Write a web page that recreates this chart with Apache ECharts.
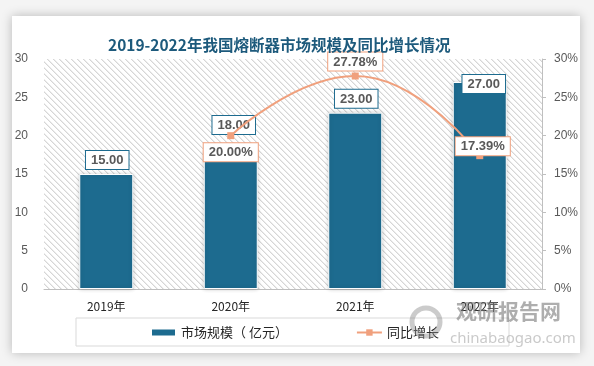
<!DOCTYPE html>
<html>
<head>
<meta charset="utf-8">
<script src="https://cdn.jsdelivr.net/npm/echarts@6/dist/echarts.min.js"></script>
<style>
html,body{margin:0;padding:0;background:#f4f4f4;}
#c{width:594px;height:366px;}
</style>
</head>
<body>
<div id="c"></div>
<script>
const titleText = '2019-2022年我国熔断器市场规模及同比增长情况';
const categories = ['2019年', '2020年', '2021年', '2022年'];
const marketSize = [15.00, 18.00, 23.00, 27.00];
const growthRate = [null, 20.00, 27.78, 17.39];
const leftTicks = [0, 30, 5];
const rightTicks = [0, 30, 5];
const seriesNames = ['市场规模（ 亿元）', '同比增长'];

// label placement tweaks (style, not data)
const barLabelOffsets = [[1, 0], [3, -12], [1, 0], [4, 16]];
const lineLabelPos = ['top', 'bottom', 'top', 'top'];
const lineLabelOffsets = [[0, 0], [0, 2], [0, 0], [3, 5]];

const barColor = '#1d6b8f';
const lineColor = '#f0a07d';

// hatch pattern
const P = 6;
const pc = document.createElement('canvas');
pc.width = P; pc.height = P;
const px = pc.getContext('2d');
px.fillStyle = '#ffffff';
px.fillRect(0, 0, P, P);
px.fillStyle = '#d6d6d6';
for (let i = 0; i < P; i++) px.fillRect(i, i, 1, 1);
px.fillStyle = '#ececec';
for (let i = 0; i < P; i++) px.fillRect((i + 1) % P, i, 1, 1);

const chart = echarts.init(document.getElementById('c'), null, {renderer: 'canvas'});
const numFont = '"Liberation Sans", Arial, sans-serif';
const cjkFont = '"Noto Sans CJK SC", sans-serif';

chart.setOption({
  backgroundColor: '#f4f4f4',
  animation: false,
  graphic: [
    {type: 'rect', z: -10, shape: {x: 12, y: 16, width: 568, height: 337},
     style: {fill: '#ffffff', shadowBlur: 10, shadowColor: 'rgba(0,0,0,0.25)'}},
    {type: 'rect', z: 5, shape: {x: 76, y: 318, width: 433, height: 28},
     style: {fill: 'none', stroke: '#d9d9d9', lineWidth: 1}},
    {type: 'circle', z: 100, shape: {cx: 426, cy: 322, r: 14},
     style: {fill: 'none', stroke: 'rgba(140,140,140,0.45)', lineWidth: 5}},
    {type: 'text', z: 100, left: 456, top: 301,
     style: {text: '观研报告网', fill: 'rgba(120,120,120,0.6)', font: 'bold 21px "Noto Sans CJK SC"'}},
    {type: 'text', z: 100, left: 450, top: 331,
     style: {text: 'chinabaogao.com', fill: 'rgba(150,150,150,0.5)', font: '15px "Noto Sans", sans-serif'}}
  ],
  title: {
    text: titleText, left: 103, top: 32,
    textStyle: {color: '#1d5a7c', fontSize: 15.5, fontWeight: 'bold', fontFamily: cjkFont}
  },
  legend: {
    top: 321, left: 145, itemGap: 68,
    itemWidth: 25, itemHeight: 8,
    textStyle: {color: '#262626', fontSize: 13, fontFamily: cjkFont},
    data: [
      {name: seriesNames[0], icon: 'rect'},
      {name: seriesNames[1]}
    ]
  },
  grid: {
    left: 44, right: 52, top: 59, height: 230,
    show: true, borderWidth: 0,
    backgroundColor: {image: pc, repeat: 'repeat'}
  },
  xAxis: {
    type: 'category', data: categories,
    axisLine: {lineStyle: {color: '#bfbfbf', width: 1}},
    axisTick: {show: false},
    axisLabel: {color: '#262626', fontSize: 12, margin: 11, fontFamily: cjkFont}
  },
  yAxis: [
    {type: 'value', min: leftTicks[0], max: leftTicks[1], interval: leftTicks[2],
     axisLine: {show: false}, axisTick: {show: false}, splitLine: {show: false},
     axisLabel: {color: '#595959', fontSize: 12, margin: 16, fontFamily: numFont}},
    {type: 'value', min: rightTicks[0], max: rightTicks[1], interval: rightTicks[2],
     position: 'right',
     axisLine: {show: true, lineStyle: {color: '#bfbfbf'}},
     axisTick: {show: true, length: 4, lineStyle: {color: '#bfbfbf'}},
     splitLine: {show: false},
     axisLabel: {color: '#595959', fontSize: 12, margin: 12, formatter: '{value}%', fontFamily: numFont}}
  ],
  series: [
    {
      name: seriesNames[0], type: 'bar', barWidth: 54,
      itemStyle: {color: barColor, borderColor: '#ffffff', borderWidth: 1,
                  shadowBlur: 4, shadowColor: 'rgba(0,0,0,0.2)'},
      label: {
        show: true, position: 'top', distance: 5,
        formatter: p => p.value.toFixed(2),
        color: '#595959', fontSize: 13, fontWeight: 'bold', fontFamily: numFont,
        backgroundColor: '#ffffff', borderColor: barColor, borderWidth: 1,
        padding: [3, 5, 2, 5]
      },
      data: marketSize.map((v, i) => ({value: v, label: {offset: barLabelOffsets[i]}}))
    },
    {
      name: seriesNames[1], type: 'line', yAxisIndex: 1, smooth: true,
      symbol: 'rect', symbolSize: 7,
      lineStyle: {color: lineColor, width: 2},
      itemStyle: {color: lineColor},
      label: {
        show: true, distance: 2,
        formatter: p => p.value.toFixed(2) + '%',
        color: '#595959', fontSize: 13, fontWeight: 'bold', fontFamily: numFont,
        backgroundColor: '#ffffff', borderColor: lineColor, borderWidth: 1,
        padding: [3, 5, 2, 5]
      },
      z: 3,
      data: growthRate.map((v, i) => ({value: v, label: {position: lineLabelPos[i], offset: lineLabelOffsets[i]}}))
    }
  ]
});
</script>
</body>
</html>
